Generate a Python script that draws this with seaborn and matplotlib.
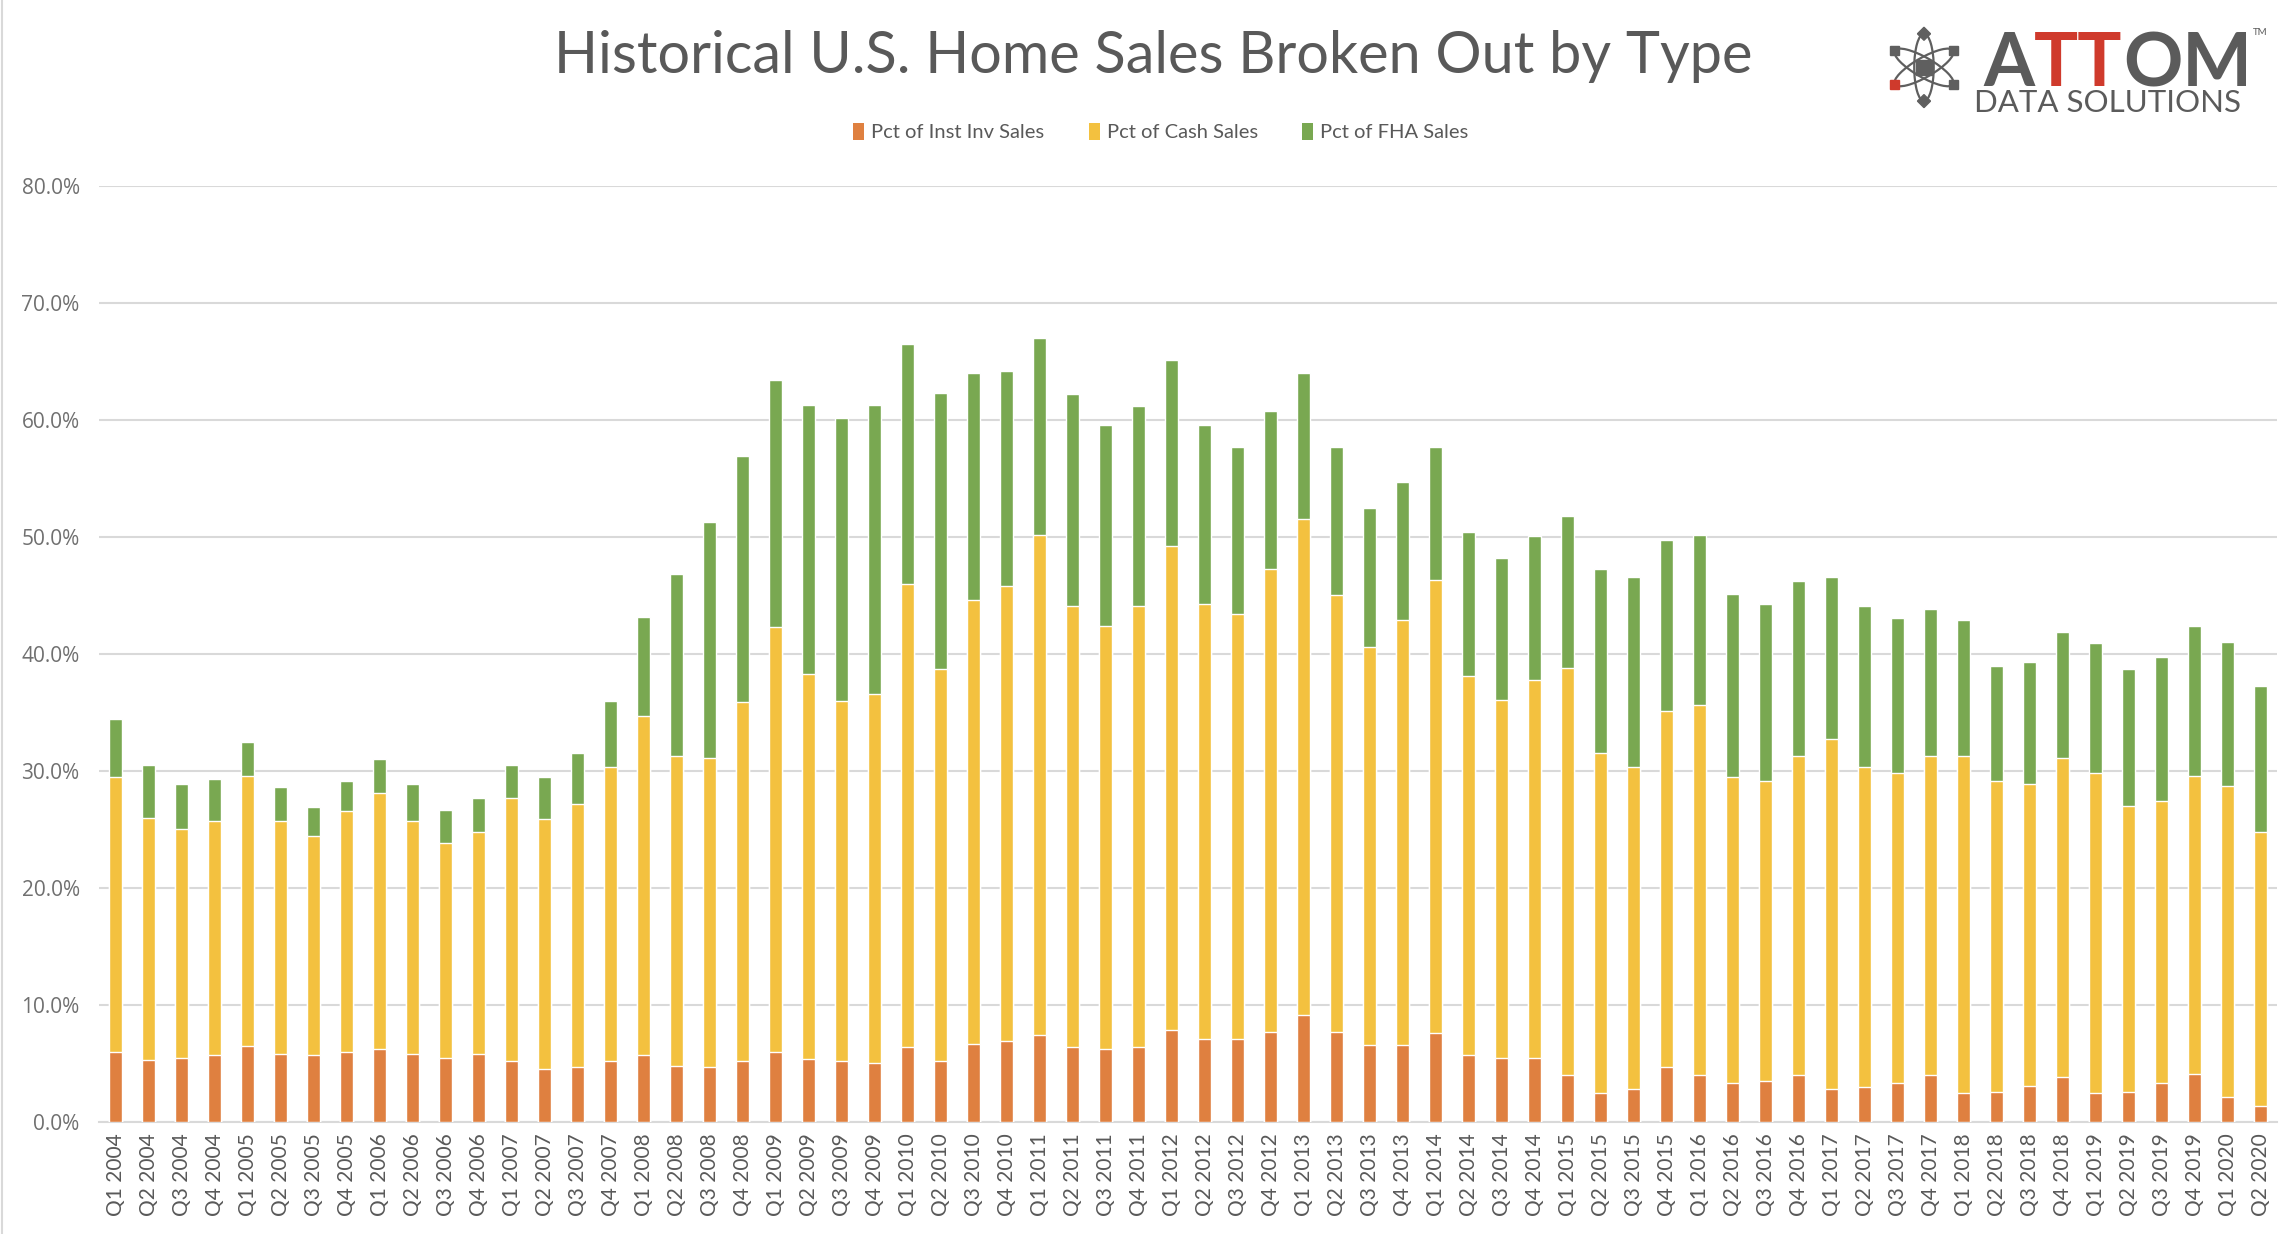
import numpy as np
import pandas as pd
import seaborn as sns
import matplotlib.pyplot as plt
from matplotlib.patches import Patch, Ellipse, Rectangle
from matplotlib.lines import Line2D
from matplotlib.ticker import FuncFormatter

# quarters Q1 2004 .. Q2 2020
years = list(range(2004, 2021))
quarters = [f"Q{q} {y}" for y in years for q in range(1, 5)][:66]

# share of sales, percent (stack order: inst inv, cash, FHA)
inst_inv = [6.0, 5.3, 5.5, 5.7, 6.5, 5.8, 5.7, 6.0, 6.2, 5.8, 5.5, 5.8,
            5.2, 4.5, 4.7, 5.2, 5.7, 4.8, 4.7, 5.2, 6.0, 5.4, 5.2, 5.0,
            6.4, 5.2, 6.7, 6.9, 7.4, 6.4, 6.2, 6.4, 7.9, 7.1, 7.1, 7.7,
            9.1, 7.7, 6.6, 6.6, 7.6, 5.7, 5.5, 5.5, 4.0, 2.5, 2.8, 4.7,
            4.0, 3.3, 3.5, 4.0, 2.8, 3.0, 3.3, 4.0, 2.5, 2.6, 3.1, 3.8,
            2.5, 2.6, 3.3, 4.1, 2.1, 1.4]
cash = [23.5, 20.7, 19.5, 20.0, 23.1, 19.9, 18.7, 20.6, 21.9, 19.9, 18.3, 19.0,
        22.5, 21.4, 22.5, 25.1, 29.0, 26.5, 26.4, 30.7, 36.3, 32.9, 30.8, 31.6,
        39.6, 33.5, 37.9, 38.9, 42.8, 37.7, 36.2, 37.7, 41.3, 37.2, 36.3, 39.6,
        42.4, 37.3, 34.0, 36.3, 38.7, 32.4, 30.6, 32.3, 34.8, 29.0, 27.5, 30.4,
        31.6, 26.2, 25.6, 27.3, 29.9, 27.3, 26.5, 27.3, 28.8, 26.5, 25.8, 27.3,
        27.3, 24.4, 24.1, 25.5, 26.6, 23.4]
fha = [4.9, 4.5, 3.9, 3.6, 2.9, 2.9, 2.5, 2.5, 2.9, 3.2, 2.9, 2.9,
       2.8, 3.6, 4.3, 5.7, 8.5, 15.5, 20.2, 21.0, 21.1, 23.0, 24.2, 24.7,
       20.5, 23.6, 19.4, 18.4, 16.8, 18.1, 17.2, 17.1, 15.9, 15.3, 14.3, 13.5,
       12.5, 12.7, 11.9, 11.8, 11.4, 12.3, 12.1, 12.3, 13.0, 15.8, 16.3, 14.6,
       14.6, 15.6, 15.2, 14.9, 13.9, 13.8, 13.3, 12.5, 11.6, 9.9, 10.4, 10.8,
       11.1, 11.7, 12.3, 12.8, 12.3, 12.5]

series_names = ["Pct of Inst Inv Sales", "Pct of Cash Sales", "Pct of FHA Sales"]
colors = ["#DF8040", "#F3C13F", "#79A851"]

df = pd.DataFrame({"quarter": quarters, "inst": inst_inv, "cash": cash, "fha": fha})
df["top_cash"] = df["inst"] + df["cash"]
df["top_fha"] = df["top_cash"] + df["fha"]

sns.set_style("white")
plt.rcParams["font.family"] = ["Lato", "DejaVu Sans"]

fig = plt.figure(figsize=(22.94, 12.34), dpi=100)
ax = fig.add_axes([0.0432, 0.0908, 0.9494, 0.7585])

# stacked bars: draw the cumulative tops first, then overlay lower segments
for col, c in zip(["top_fha", "top_cash", "inst"], colors[::-1]):
    sns.barplot(data=df, x="quarter", y=col, color=c, width=0.41,
                saturation=1, errorbar=None, ax=ax, zorder=3)

ax.set_ylim(0, 80)
ax.set_xlim(-0.5, len(quarters) - 0.5)
ax.set_yticks(np.arange(0, 81, 10))
ax.yaxis.set_major_formatter(FuncFormatter(lambda v, p: f"{v:.1f}%"))
ax.set_xlabel("")
ax.set_ylabel("")
ax.grid(axis="y", color="#d9d9d9", linewidth=1.5, zorder=0)
ax.set_axisbelow(True)
for s in ["top", "right", "left"]:
    ax.spines[s].set_visible(False)
ax.spines["bottom"].set_color("#d9d9d9")
ax.spines["bottom"].set_linewidth(1.5)
ax.tick_params(axis="x", length=0, pad=8, rotation=90, labelsize=15, labelcolor="#595959")
ax.tick_params(axis="y", length=0, pad=14, labelsize=15, labelcolor="#707070")
for lab in ax.get_yticklabels():
    lab.set_family(["Open Sans", "DejaVu Sans"])

# title and legend
fig.text(0.5026, 0.954, "Historical U.S. Home Sales Broken Out by Type",
         ha="center", va="center", fontsize=41.5, color="#595959")
handles = [Patch(facecolor=c, edgecolor="none") for c in colors]
fig.legend(handles, series_names, loc="center", bbox_to_anchor=(0.506, 0.893),
           ncol=3, frameon=False, fontsize=14.5, handlelength=0.55, handleheight=0.9,
           handletextpad=0.35, columnspacing=2.2, labelcolor="#595959")

# ATTOM logo
t1 = fig.text(0.8645, 0.9303, "A", fontsize=53, weight="bold", color="#5b5b5b",
              va="baseline")
t2 = ax.annotate("TT", xy=(1, 0), xycoords=t1, va="bottom", fontsize=53,
                 weight="bold", color="#cf3a2c")
t3 = ax.annotate("OM", xy=(1, 0), xycoords=t2, va="bottom", fontsize=53,
                 weight="bold", color="#5b5b5b")
fig.text(0.982, 0.974, "TM", fontsize=7, color="#5b5b5b", va="center")
fig.text(0.8605, 0.9095, "DATA SOLUTIONS", fontsize=22.5, color="#5b5b5b", va="baseline")

icon = fig.add_axes([0.8217, 0.9109, 0.034, 0.0689])
icon.set_xlim(-1.1, 1.1)
icon.set_ylim(-1.2, 1.2)
icon.axis("off")
for ang in [0, 60, -60]:
    icon.add_patch(Ellipse((0, 0), 0.55, 1.9, angle=ang, fill=False,
                           edgecolor="#5f5f5f", linewidth=1.6))
icon.add_patch(Rectangle((-0.22, -0.22), 0.44, 0.44, color="#5f5f5f"))
for ang in [90, 30, 150, 330, 270, 210]:
    x, y = 0.95 * np.cos(np.radians(ang)), 0.95 * np.sin(np.radians(ang))
    col = "#cf3a2c" if ang == 210 else "#5f5f5f"
    icon.add_patch(Rectangle((x - 0.13, y - 0.13), 0.26, 0.26, color=col,
                             angle=45 if ang in (90, 270) else 0,
                             rotation_point="center"))

# chart frame edge on the left
fig.add_artist(Line2D([0.001, 0.001], [0, 1], color="#d9d9d9", linewidth=1.5))

fig.savefig("out.png", dpi=100, facecolor="white")
